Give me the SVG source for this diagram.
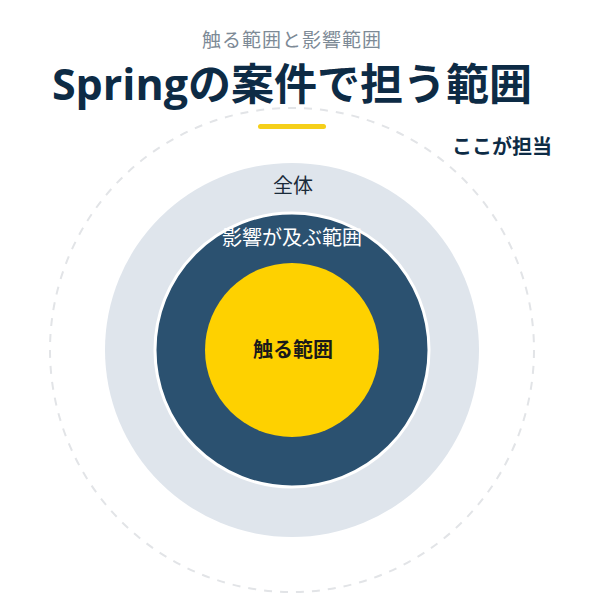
<svg xmlns="http://www.w3.org/2000/svg" width="600" height="600" viewBox="0 0 600 600">
<style>
text{font-family:"Noto Sans CJK JP","Noto Sans",sans-serif;text-anchor:middle}
.t{font-size:43px;font-weight:700;fill:#0d2b45}
.sub{font-size:19px;fill:#7d8a96;letter-spacing:1px}
.lbl{font-size:20px}
</style>
<rect width="600" height="600" fill="#ffffff"/>
<g id="header">
<text class="sub" x="292" y="47">触る範囲と影響範囲</text>
<text class="t" x="292" y="100" style="font-family:'Open Sans','Noto Sans CJK JP',sans-serif">Springの案件で担う範囲</text>
<rect x="258" y="124" width="68" height="5" rx="2.5" fill="#f5cf1a"/>
</g>
<g id="scope-boundary">
<circle cx="292" cy="350" r="242" fill="none" stroke="#e2e4e7" stroke-width="2" stroke-dasharray="8 8"/>
<text class="lbl" x="502" y="154" font-weight="700" fill="#0d2b45">ここが担当</text>
</g>
<g id="whole">
<circle cx="292" cy="350" r="187" fill="#dfe5ec"/>
<text class="lbl" x="293" y="193" fill="#1a2a3a">全体</text>
</g>
<g id="impact">
<circle cx="292" cy="350" r="137" fill="#2b5170" stroke="#ffffff" stroke-width="3"/>
<text class="lbl" x="292" y="245" fill="#ffffff">影響が及ぶ範囲</text>
</g>
<g id="touch">
<circle cx="292" cy="350" r="87" fill="#fed100"/>
<text class="lbl" x="293" y="357" font-weight="700" fill="#1a1a1a">触る範囲</text>
</g>
<g id="connectors"></g>
</svg>
